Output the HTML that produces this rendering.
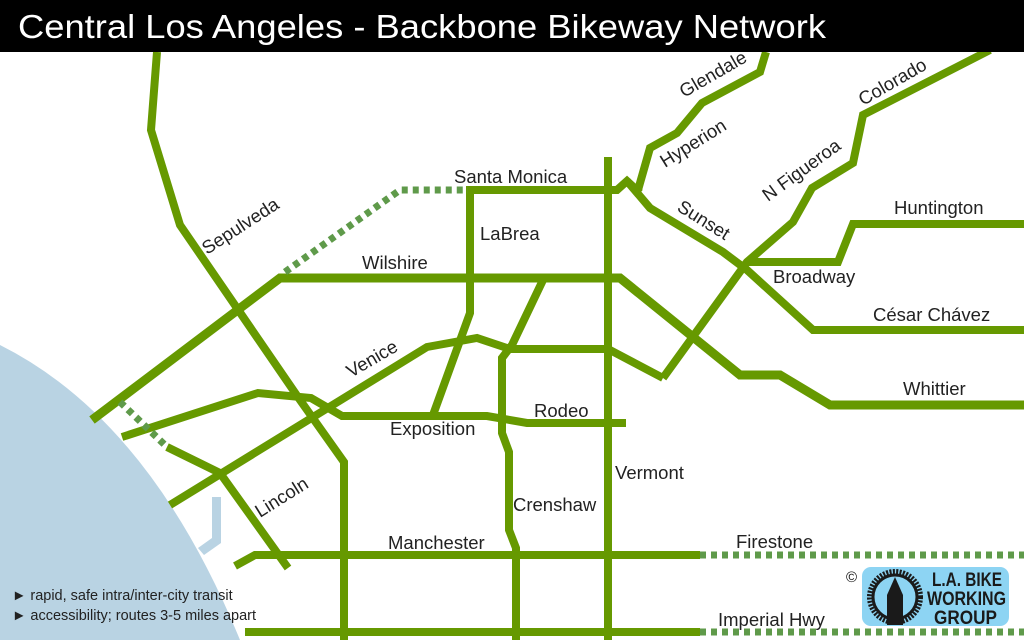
<!DOCTYPE html>
<html><head><meta charset="utf-8"><style>
html,body{margin:0;padding:0;background:#fff;width:1024px;height:640px;overflow:hidden}
svg{display:block}
text{font-family:"Liberation Sans",Arial,sans-serif;fill:#222}
</style></head><body>
<svg width="1024" height="640" viewBox="0 0 1024 640" xmlns="http://www.w3.org/2000/svg">
<rect width="1024" height="640" fill="#fff"/>
<path d="M0,345 Q150,420 240,640 L0,640 Z" fill="#b9d3e3"/>
<path d="M212,497 L221,497 L221,543 L204,555 L198,548 L212,538 Z" fill="#b9d3e3"/>
<g fill="none" stroke="#669900" stroke-width="8" stroke-linejoin="miter">
<polyline points="157,52 151,130 180,225 300,400 344,462 344,640"/>
<polyline stroke-width="9" points="92,420 280,278 620,278 740,375 780,375 830,405 1024,405"/>
<polyline points="468,190 617,190 627,181 640,193"/>
<polyline points="470,186 470,313 433,415"/>
<line x1="608" y1="157" x2="608" y2="640"/>
<polyline points="766,52 760,72 702,103 677,133 650,148 638,190"/>
<polyline points="627,181 650,208 723,252 747,270 813,330 1024,330"/>
<polyline points="663,378 747,262 793,222 812,188 853,163 863,115 990,50"/>
<polyline points="747,262 838,262 853,224 1024,224"/>
<polyline points="170,505 427,347 477,338 510,349 608,349 663,378"/>
<polyline points="543,280 512,345 502,358 502,433 509,452 509,530 516,548 516,640"/>
<polyline points="122,437 258,393 311,398 342,416 487,416 527,423 626,423"/>
<polyline points="167,447 220,473 288,568"/>
<polyline points="235,566 255,555 700,555"/>
<line x1="245" y1="632" x2="700" y2="632"/>
</g>
<g fill="none" stroke="#5f9a4a" stroke-width="7" stroke-dasharray="6,5">
<polyline points="285,272 400,190 468,190"/>
<line x1="120" y1="402" x2="167" y2="447"/>
<line x1="700" y1="555" x2="1024" y2="555"/>
<line x1="700" y1="632" x2="1024" y2="632"/>
</g>
<rect x="0" y="0" width="1024" height="52" fill="#000"/>
<text x="18" y="38" font-size="33" style="fill:#fff" textLength="808" lengthAdjust="spacingAndGlyphs">Central Los Angeles - Backbone Bikeway Network</text>
<g font-size="18.5">
<text x="454" y="183">Santa Monica</text>
<text x="480" y="240">LaBrea</text>
<text x="362" y="269">Wilshire</text>
<text x="390" y="435">Exposition</text>
<text x="534" y="417">Rodeo</text>
<text x="615" y="479">Vermont</text>
<text x="513" y="511">Crenshaw</text>
<text x="388" y="549">Manchester</text>
<text x="736" y="548">Firestone</text>
<text x="718" y="626">Imperial Hwy</text>
<text x="773" y="283">Broadway</text>
<text x="894" y="214">Huntington</text>
<text x="873" y="321">César Chávez</text>
<text x="903" y="395">Whittier</text>
<text transform="translate(207,255) rotate(-33)">Sepulveda</text>
<text transform="translate(351,378) rotate(-30)">Venice</text>
<text transform="translate(260,518) rotate(-32)">Lincoln</text>
<text transform="translate(684,98) rotate(-30)">Glendale</text>
<text transform="translate(665,168) rotate(-32)">Hyperion</text>
<text transform="translate(768,202) rotate(-36)">N Figueroa</text>
<text transform="translate(863,106) rotate(-30)">Colorado</text>
<text transform="translate(676,210) rotate(32)">Sunset</text>
</g>
<g font-size="14.5">
<text x="12" y="600">► rapid, safe intra/inter-city transit</text>
<text x="12" y="620">► accessibility; routes 3-5 miles apart</text>
</g>
<text x="846" y="582" font-size="15" style="fill:#111">©</text>
<rect x="862" y="567" width="147" height="59" rx="9" fill="#8dd4f3"/>
<circle cx="895" cy="597" r="25" fill="none" stroke="#1a1a1a" stroke-width="6" stroke-dasharray="2,1.3"/>
<circle cx="895" cy="597" r="22" fill="none" stroke="#1a1a1a" stroke-width="3"/>
<path d="M895,577 L903,595 L903,625 L887,625 L887,595 Z" fill="#1a1a1a"/>
<g font-size="19" font-weight="bold">
<text x="932" y="586" textLength="70" lengthAdjust="spacingAndGlyphs" style="fill:#1a1a1a">L.A. BIKE</text>
<text x="927" y="605" textLength="79" lengthAdjust="spacingAndGlyphs" style="fill:#1a1a1a">WORKING</text>
<text x="934" y="624" textLength="63" lengthAdjust="spacingAndGlyphs" style="fill:#1a1a1a">GROUP</text>
</g>
</svg>
</body></html>
